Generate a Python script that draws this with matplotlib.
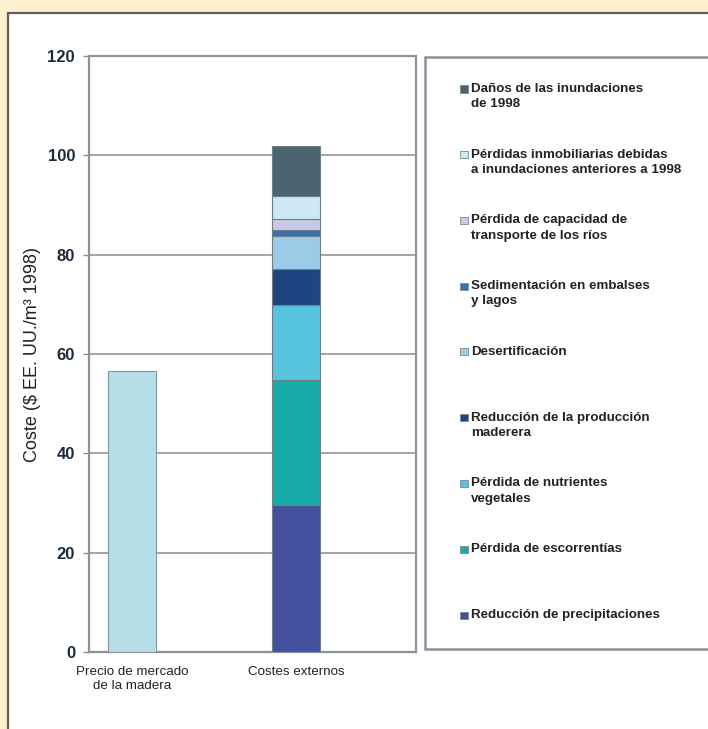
import matplotlib.pyplot as plt
from matplotlib.patches import Rectangle
import numpy as np

plt.rcParams['font.family'] = ['Liberation Sans', 'DejaVu Sans']

# -------------------------------
# DATA
# -------------------------------
categories = ["Precio de mercado\nde la madera", "Costes externos"]
market_price = 56.5

# stacked components of the external costs, bottom to top
components = [
    "Reducción de precipitaciones",
    "Pérdida de escorrentías",
    "Pérdida de nutrientes\nvegetales",
    "Reducción de la producción\nmaderera",
    "Desertificación",
    "Sedimentación en embalses\ny lagos",
    "Pérdida de capacidad de\ntransporte de los ríos",
    "Pérdidas inmobiliarias debidas\na inundaciones anteriores a 1998",
    "Daños de las inundaciones\nde 1998",
]
component_values = [29.5, 25.2, 15.2, 7.2, 6.6, 1.2, 2.2, 4.8, 9.9]
component_colors = ["#4650a0", "#18aaa8", "#56c4dc", "#1e4580", "#9ccbe8",
                    "#3a70b0", "#c9c9e5", "#cce9f3", "#4a6470"]

yticks = [0, 20, 40, 60, 80, 100, 120]

# -------------------------------
# FIGURE + BACKGROUND PANELS
# -------------------------------
W, H = 708, 729
fig = plt.figure(figsize=(W / 100, H / 100), dpi=100)
fig.patch.set_facecolor("#fdf0cf")

def px(x, y):
    return x / W, 1 - y / H

x0, y0 = px(8, 800)
fig.patches.append(Rectangle((x0, y0), 2.0, (800 - 13) / H, transform=fig.transFigure,
                             facecolor="white", edgecolor="#5e5e55", linewidth=1.6,
                             zorder=0, clip_on=False))
# legend box
lx, ly = px(425, 649)
fig.patches.append(Rectangle((lx, ly), 1.0, (649 - 57) / H, transform=fig.transFigure,
                             facecolor="white", edgecolor="#8a9399", linewidth=1.8,
                             zorder=1, clip_on=False))

# -------------------------------
# BAR AXES
# -------------------------------
ax = fig.add_axes([89 / W, 1 - 652 / H, (416 - 89) / W, (652 - 56) / H])
ax.set_facecolor("none")
ax.set_zorder(2)

x = np.arange(len(categories))
bw = 0.29
ax.bar(x[0], market_price, width=bw, color="#b4dfe6", edgecolor="#7f98a0",
       linewidth=0.8, zorder=3)
bottom = 0
for val, col in zip(component_values, component_colors):
    ax.bar(x[1], val, width=bw, bottom=bottom, color=col, edgecolor="#6c7f88",
           linewidth=0.8, zorder=3)
    bottom += val

ax.set_xlim(-0.262, 1.732)
ax.set_ylim(0, 120)
ax.set_yticks(yticks)
ax.set_yticklabels([str(t) for t in yticks], fontsize=12, fontweight="bold",
                   color="#1c2b3c")
ax.set_xticks(x)
ax.set_xticklabels(categories, fontsize=9.6, color="#222222", linespacing=1.2)
ax.tick_params(axis="x", length=0, pad=10)
ax.tick_params(axis="y", length=4, width=1, color="#8a8f93", pad=6)
ax.yaxis.grid(True, color="#8a8a8a", linewidth=1.1, zorder=0)
ax.set_axisbelow(True)
for s in ax.spines.values():
    s.set_color("#8c9398")
    s.set_linewidth(1.6)
ax.set_ylabel("Coste ($ EE. UU./m³ 1998)", fontsize=13, color="#222222")
ax.yaxis.set_label_coords(-0.148, 0.5)

# -------------------------------
# LEGEND (manual, top to bottom)
# -------------------------------
first_line_y = np.linspace(89, 615, len(components))
for lab, col, yy in zip(components[::-1], component_colors[::-1], first_line_y):
    mx, my = px(464, yy)
    fig.patches.append(Rectangle((mx - 3.5 / W, my - 3.5 / H), 7 / W, 7 / H,
                                 transform=fig.transFigure, facecolor=col,
                                 edgecolor="#7a8a90", linewidth=0.6, zorder=3))
    tx, ty = px(471, yy - 6)
    fig.text(tx, ty, lab, fontsize=9.6, fontweight="bold", color="#222222",
             ha="left", va="top", linespacing=1.35, zorder=4)

fig.savefig("out.png", dpi=100, facecolor=fig.get_facecolor())
